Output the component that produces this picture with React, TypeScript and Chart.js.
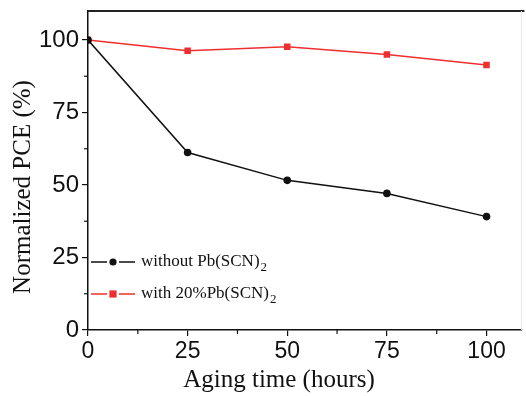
import React, { useEffect, useRef } from "react";
import { Chart, registerables } from "chart.js";

Chart.register(...registerables);

const hours = [0, 25, 50, 75, 100];
const withoutPb = [100, 61.2, 51.6, 47.1, 39.1];
const with20Pb = [100, 96.3, 97.7, 95.0, 91.4];
const xTicks = [0, 25, 50, 75, 100];
const yTicks = [0, 25, 50, 75, 100];
const minorTicks = [12.5, 37.5, 62.5, 87.5];
const legendLabels = ["without Pb(SCN)", "with 20%Pb(SCN)"];
const xTitle = "Aging time (hours)";
const yTitle = "Normalized PCE (%)";

const BLACK = "#111111";
const RED = "#ee2f2f";

const decorPlugin = {
  id: "decor",
  afterDraw(chart: any) {
    const { ctx, chartArea, scales } = chart;
    const { left, right, top, bottom } = chartArea;
    ctx.save();
    // top border
    ctx.strokeStyle = "#222";
    ctx.lineWidth = 2;
    ctx.beginPath();
    ctx.moveTo(left, top);
    ctx.lineTo(right + 3, top);
    ctx.stroke();
    // faint right border
    ctx.strokeStyle = "#e4e4e4";
    ctx.lineWidth = 1;
    ctx.beginPath();
    ctx.moveTo(right, top);
    ctx.lineTo(right, bottom);
    ctx.stroke();
    // minor ticks
    ctx.strokeStyle = "#111";
    ctx.lineWidth = 1.2;
    minorTicks.forEach((v) => {
      const x = scales.x.getPixelForValue(v);
      ctx.beginPath();
      ctx.moveTo(x, bottom);
      ctx.lineTo(x, bottom + 4);
      ctx.stroke();
      const y = scales.y.getPixelForValue(v);
      ctx.beginPath();
      ctx.moveTo(left - 4, y);
      ctx.lineTo(left, y);
      ctx.stroke();
    });
    // axis titles
    ctx.fillStyle = "#111";
    ctx.textAlign = "center";
    ctx.textBaseline = "middle";
    ctx.font = '25px "Liberation Serif", serif';
    ctx.fillText(xTitle, 279, 380);
    ctx.save();
    ctx.translate(23, 187);
    ctx.rotate(-Math.PI / 2);
    ctx.font = '25px "Liberation Serif", serif';
    ctx.fillText(yTitle, 0, 0);
    ctx.restore();
    // legend
    const rows = [
      { color: BLACK, label: legendLabels[0], shape: "circle", y: 262 },
      { color: RED, label: legendLabels[1], shape: "square", y: 294 },
    ];
    rows.forEach((r) => {
      const x0 = left + 3;
      ctx.strokeStyle = r.color;
      ctx.lineWidth = 1.5;
      ctx.beginPath();
      ctx.moveTo(x0, r.y);
      ctx.lineTo(x0 + 16, r.y);
      ctx.moveTo(x0 + 28, r.y);
      ctx.lineTo(x0 + 44, r.y);
      ctx.stroke();
      ctx.fillStyle = r.color;
      const cx = x0 + 22;
      if (r.shape === "circle") {
        ctx.beginPath();
        ctx.arc(cx, r.y, 3.6, 0, Math.PI * 2);
        ctx.fill();
      } else {
        ctx.fillRect(cx - 3.6, r.y - 3.6, 7.2, 7.2);
      }
      ctx.fillStyle = "#111";
      ctx.font = '17px "Liberation Serif", serif';
      ctx.textBaseline = "middle";
      ctx.textAlign = "left";
      const tx = x0 + 50;
      ctx.fillText(r.label, tx, r.y);
      const w = ctx.measureText(r.label).width;
      ctx.font = '13px "Liberation Serif", serif';
      ctx.fillText("2", tx + w + 1, r.y + 6);
    });
    ctx.restore();
  },
};

export default function App() {
  const ref = useRef<HTMLCanvasElement>(null);
  useEffect(() => {
    if (!ref.current) return;
    const chart = new Chart(ref.current, {
      type: "line",
      data: {
        datasets: [
          {
            label: "without Pb(SCN)2",
            data: hours.map((h, i) => ({ x: h, y: withoutPb[i] })),
            borderColor: BLACK,
            backgroundColor: BLACK,
            borderWidth: 1.5,
            pointStyle: "circle",
            pointRadius: 3.8,
            pointBorderWidth: 0,
          },
          {
            label: "with 20%Pb(SCN)2",
            data: hours.map((h, i) => ({ x: h, y: with20Pb[i] })),
            borderColor: RED,
            backgroundColor: RED,
            borderWidth: 1.5,
            pointStyle: "rect",
            pointRadius: 4.6,
            pointBorderWidth: 0,
          },
        ],
      },
      options: {
        animation: false,
        responsive: false,
        maintainAspectRatio: false,
        layout: { padding: { top: 11, right: 3, left: 0, bottom: 0 } },
        plugins: { legend: { display: false }, tooltip: { enabled: false } },
        scales: {
          x: {
            type: "linear",
            min: 0,
            max: 108.75,
            afterBuildTicks: (s: any) => {
              s.ticks = xTicks.map((v) => ({ value: v }));
            },
            afterFit: (s: any) => {
              s.height = 66;
              s.paddingLeft = 0;
              s.paddingRight = 0;
            },
            ticks: {
              color: "#111",
              font: { family: '"Liberation Sans", Arial, sans-serif', size: 23 },
              padding: 2,
              maxRotation: 0,
            },
            grid: { drawOnChartArea: false, tickLength: 6, color: "#111", lineWidth: 1.2 },
            border: { display: true, color: "#111", width: 1.5 },
          },
          y: {
            type: "linear",
            min: 0,
            max: 110,
            afterBuildTicks: (s: any) => {
              s.ticks = yTicks.map((v) => ({ value: v }));
            },
            afterFit: (s: any) => {
              s.width = 88;
              s.paddingTop = 0;
              s.paddingBottom = 0;
            },
            ticks: {
              color: "#111",
              font: { family: '"Liberation Sans", Arial, sans-serif', size: 24 },
              padding: 3,
            },
            grid: { drawOnChartArea: false, tickLength: 6, color: "#111", lineWidth: 1.2 },
            border: { display: true, color: "#111", width: 1.5 },
          },
        },
      },
      plugins: [decorPlugin],
    });
    return () => chart.destroy();
  }, []);
  return (
    <div style={{ position: "absolute", left: 0, top: 0, width: 526, height: 396, background: "#fff" }}>
      <canvas ref={ref} width={526} height={396} />
    </div>
  );
}
